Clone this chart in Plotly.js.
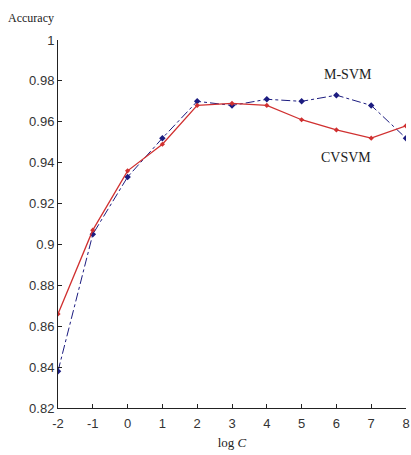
<!DOCTYPE html>
<html><head><meta charset="utf-8">
<script src="https://cdn.plot.ly/plotly-3.0.1.min.js"></script>
<style>html,body{margin:0;padding:0;background:#fff;}#chart{width:411px;height:455px;}</style>
</head><body><div id="chart"></div>
<script>
const logC = [-2, -1, 0, 1, 2, 3, 4, 5, 6, 7, 8];
const cvsvm = [0.866, 0.907, 0.936, 0.949, 0.968, 0.969, 0.968, 0.961, 0.956, 0.952, 0.958];
const msvm  = [0.838, 0.905, 0.933, 0.952, 0.970, 0.968, 0.971, 0.970, 0.973, 0.968, 0.952];
const yTicks = [0.82, 0.84, 0.86, 0.88, 0.9, 0.92, 0.94, 0.96, 0.98, 1];
const yTickText = ['0.82','0.84','0.86','0.88','0.9','0.92','0.94','0.96','0.98','1'];
const xTicks = [-2, -1, 0, 1, 2, 3, 4, 5, 6, 7, 8];
const xTickText = ['-2','-1','0','1','2','3','4','5','6','7','8'];

const tickFont = {family: 'Liberation Sans Narrow, Arial Narrow, Liberation Sans, sans-serif', size: 13, color: '#333'};
const serif = {family: 'Liberation Serif, Times New Roman, serif', size: 12, color: '#222'};

const traces = [
  {x: logC, y: msvm, mode: 'lines+markers', name: 'M-SVM',
   line: {color: '#1c1c80', width: 1, dash: 'dashdot'},
   marker: {symbol: 'diamond', size: 5, color: '#1c1c80'}},
  {x: logC, y: cvsvm, mode: 'lines+markers', name: 'CVSVM',
   line: {color: '#d03030', width: 1.3},
   marker: {symbol: 'diamond', size: 4, color: '#d03030'}}
];

const layout = {
  width: 411, height: 455,
  margin: {l: 58, r: 5, t: 40, b: 47},
  paper_bgcolor: '#fff', plot_bgcolor: '#fff',
  showlegend: false,
  xaxis: {range: [-2, 8], tickvals: xTicks, ticktext: xTickText, ticks: 'inside', ticklen: 4, tickcolor: '#222',
          showline: true, linecolor: '#222', linewidth: 1, showgrid: false, zeroline: false,
          ticklabelstandoff: 3,
          tickfont: tickFont, title: {text: 'log <i>C</i>', font: {family: serif.family, size: 13, color: '#222'}, standoff: 8}},
  yaxis: {range: [0.82, 1], tickvals: yTicks, ticktext: yTickText, ticks: 'inside', ticklen: 4, tickcolor: '#222',
          showline: true, linecolor: '#222', linewidth: 1, showgrid: false, zeroline: false,
          tickfont: tickFont},
  annotations: [
    {xref: 'paper', yref: 'paper', x: -0.15, y: 1.035, xanchor: 'left', yanchor: 'bottom',
     text: 'Accuracy', showarrow: false, font: serif},
    {xref: 'x', yref: 'y', x: 5.6, y: 0.983, xanchor: 'left', yanchor: 'middle',
     text: 'M-SVM', showarrow: false, font: {family: serif.family, size: 14, color: '#222'}},
    {xref: 'x', yref: 'y', x: 5.5, y: 0.9425, xanchor: 'left', yanchor: 'middle',
     text: 'CVSVM', showarrow: false, font: {family: serif.family, size: 14, color: '#222'}}
  ]
};
Plotly.newPlot('chart', traces, layout, {displayModeBar: false, staticPlot: true});
</script></body></html>
